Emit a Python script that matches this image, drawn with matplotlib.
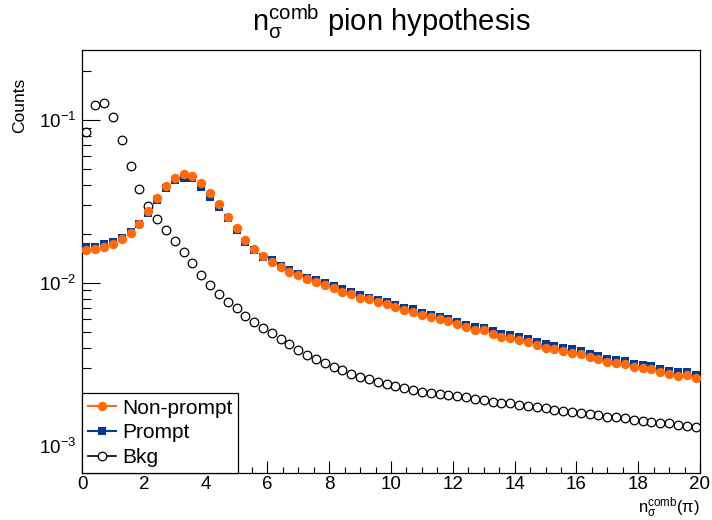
import numpy as np
import matplotlib
matplotlib.use("Agg")
import matplotlib.pyplot as plt
from matplotlib.ticker import MultipleLocator, LogLocator, NullFormatter, LogFormatterMathtext
from matplotlib.lines import Line2D

plt.rcParams['font.family'] = ['Liberation Sans', 'DejaVu Sans']
plt.rcParams['mathtext.fontset'] = 'custom'
plt.rcParams['mathtext.rm'] = 'Liberation Sans'
plt.rcParams['mathtext.it'] = 'Liberation Sans:italic'
plt.rcParams['mathtext.bf'] = 'Liberation Sans:bold'
plt.rcParams['mathtext.sf'] = 'Liberation Sans'

# 70 bins over [0, 20]
x_min, x_max, n_bins = 0.0, 20.0, 70

nonprompt = [
    0.0159, 0.0161, 0.0166, 0.0173, 0.0185, 0.0204, 0.0230, 0.0277, 0.0331, 0.0394,
    0.0443, 0.0465, 0.0453, 0.0409, 0.0355, 0.0304, 0.0255, 0.0217, 0.0184, 0.0162,
    0.0147, 0.0135, 0.0125, 0.01173, 0.01115, 0.01054, 0.01014, 0.00977, 0.00936, 0.00885,
    0.00860, 0.00813, 0.00794, 0.00762, 0.00740, 0.00716, 0.00683, 0.00667, 0.00637, 0.00621,
    0.00601, 0.00585, 0.00558, 0.00535, 0.00515, 0.00512, 0.00486, 0.00469, 0.00458, 0.00445,
    0.00435, 0.00417, 0.00401, 0.00394, 0.00385, 0.00374, 0.00367, 0.00353, 0.00342, 0.00329,
    0.00322, 0.00318, 0.00306, 0.00300, 0.00295, 0.00284, 0.00277, 0.00270, 0.00272, 0.00260,
]

prompt = [
    0.0166, 0.0167, 0.0173, 0.0179, 0.0190, 0.0207, 0.0230, 0.0268, 0.0323, 0.0381,
    0.0428, 0.0439, 0.0439, 0.0390, 0.0338, 0.0294, 0.0249, 0.0211, 0.0179, 0.0159,
    0.0145, 0.0138, 0.0128, 0.0120, 0.0114, 0.0108, 0.0104, 0.0100, 0.00960, 0.00915,
    0.00885, 0.00840, 0.00815, 0.00785, 0.00762, 0.00738, 0.00705, 0.00688, 0.00658, 0.00641,
    0.00622, 0.00605, 0.00578, 0.00556, 0.00536, 0.00532, 0.00505, 0.00488, 0.00478, 0.00465,
    0.00453, 0.00435, 0.00420, 0.00412, 0.00402, 0.00391, 0.00384, 0.00369, 0.00358, 0.00344,
    0.00337, 0.00333, 0.00320, 0.00314, 0.00309, 0.00297, 0.00290, 0.00283, 0.00284, 0.00272,
]

bkg = [
    0.0848, 0.124, 0.127, 0.105, 0.0753, 0.0522, 0.0377, 0.0298, 0.0247, 0.0211,
    0.0181, 0.0156, 0.0132, 0.0112, 0.00972, 0.00853, 0.00768, 0.00700, 0.00631, 0.00579,
    0.00527, 0.00491, 0.00453, 0.00422, 0.00388, 0.00361, 0.00342, 0.00323, 0.00305, 0.00291,
    0.00277, 0.00265, 0.00256, 0.00247, 0.00240, 0.00233, 0.00227, 0.00221, 0.00216, 0.00211,
    0.00208, 0.00205, 0.00204, 0.00199, 0.00194, 0.00191, 0.00187, 0.00184, 0.00183, 0.00179,
    0.00177, 0.00174, 0.00170, 0.00166, 0.00164, 0.00161, 0.00159, 0.00157, 0.00155, 0.00151,
    0.00150, 0.00148, 0.00145, 0.00142, 0.00140, 0.00138, 0.00138, 0.00135, 0.00133, 0.00131,
]

edges = np.linspace(x_min, x_max, n_bins + 1)
centers = 0.5 * (edges[:-1] + edges[1:])

c_orange = '#ff6a0d'
c_blue = '#003a99'

W, H = 712, 520
fig = plt.figure(figsize=(W / 100, H / 100), dpi=100)
L, R, T, B = 82, 700, 50, 473
ax = fig.add_axes([L / W, 1 - B / H, (R - L) / W, (B - T) / H])

ax.plot(centers, bkg, ls='none', marker='o', ms=6.2, mfc='none', mec='black', mew=0.9, zorder=3)
ax.plot(centers, prompt, ls='none', marker='s', ms=6.2, mfc=c_blue, mec=c_blue, mew=0, zorder=4)
ax.plot(centers, nonprompt, ls='none', marker='o', ms=6.8, mfc=c_orange, mec=c_orange, mew=0, zorder=5)

ax.set_yscale('log')
ax.set_xlim(x_min, x_max)
ax.set_ylim(6.83e-4, 0.269)

ax.xaxis.set_major_locator(MultipleLocator(2))
ax.xaxis.set_minor_locator(MultipleLocator(0.5))
ax.yaxis.set_major_locator(LogLocator(base=10, numticks=10))
ax.yaxis.set_minor_locator(LogLocator(base=10, subs=np.arange(2, 10), numticks=20))
ax.yaxis.set_minor_formatter(NullFormatter())
ax.yaxis.set_major_formatter(LogFormatterMathtext())

ax.tick_params(axis='x', which='major', direction='in', length=8.6, width=0.8, top=False,
               labelsize=13.5, pad=2)
ax.tick_params(axis='x', which='minor', direction='in', length=4.3, width=0.8, top=False)
ax.tick_params(axis='y', which='major', direction='in', length=13, width=0.8, right=False,
               labelsize=13.5, pad=4)
ax.tick_params(axis='y', which='minor', direction='in', length=6.5, width=0.8, right=False)
for s in ax.spines.values():
    s.set_linewidth(0.9)

fig.text((L + R) / 2 / W, 1 - 22 / H, r'$\mathrm{n}_{\mathrm{σ}}^{\mathrm{comb}}$ pion hypothesis',
         ha='center', va='center', fontsize=21)
fig.text(R / W, 1 - 513 / H, r'$\mathrm{n}_{\mathrm{σ}}^{\mathrm{comb}}(\mathrm{π})$',
         ha='right', va='baseline', fontsize=12)
fig.text(20 / W, 1 - 78 / H, 'Counts', rotation=90, ha='center', va='top', fontsize=12.5)

handles = [
    Line2D([], [], color=c_orange, marker='o', ms=6.8, mew=0, lw=1.5),
    Line2D([], [], color=c_blue, marker='s', ms=6.2, mew=0, lw=1.5),
    Line2D([], [], color='black', marker='o', ms=6.2, mfc='white', mec='black', mew=0.9, lw=1.2),
]
leg = ax.legend(handles, ['Non-prompt', 'Prompt', 'Bkg'], loc='lower left',
                bbox_to_anchor=(0, 0), borderaxespad=0, fontsize=15, frameon=True,
                fancybox=False, edgecolor='black', framealpha=1, handlelength=1.35,
                handletextpad=0.3, labelspacing=0.28, borderpad=0.28)
leg.get_frame().set_linewidth(0.9)

fig.savefig('out.png', dpi=100)
